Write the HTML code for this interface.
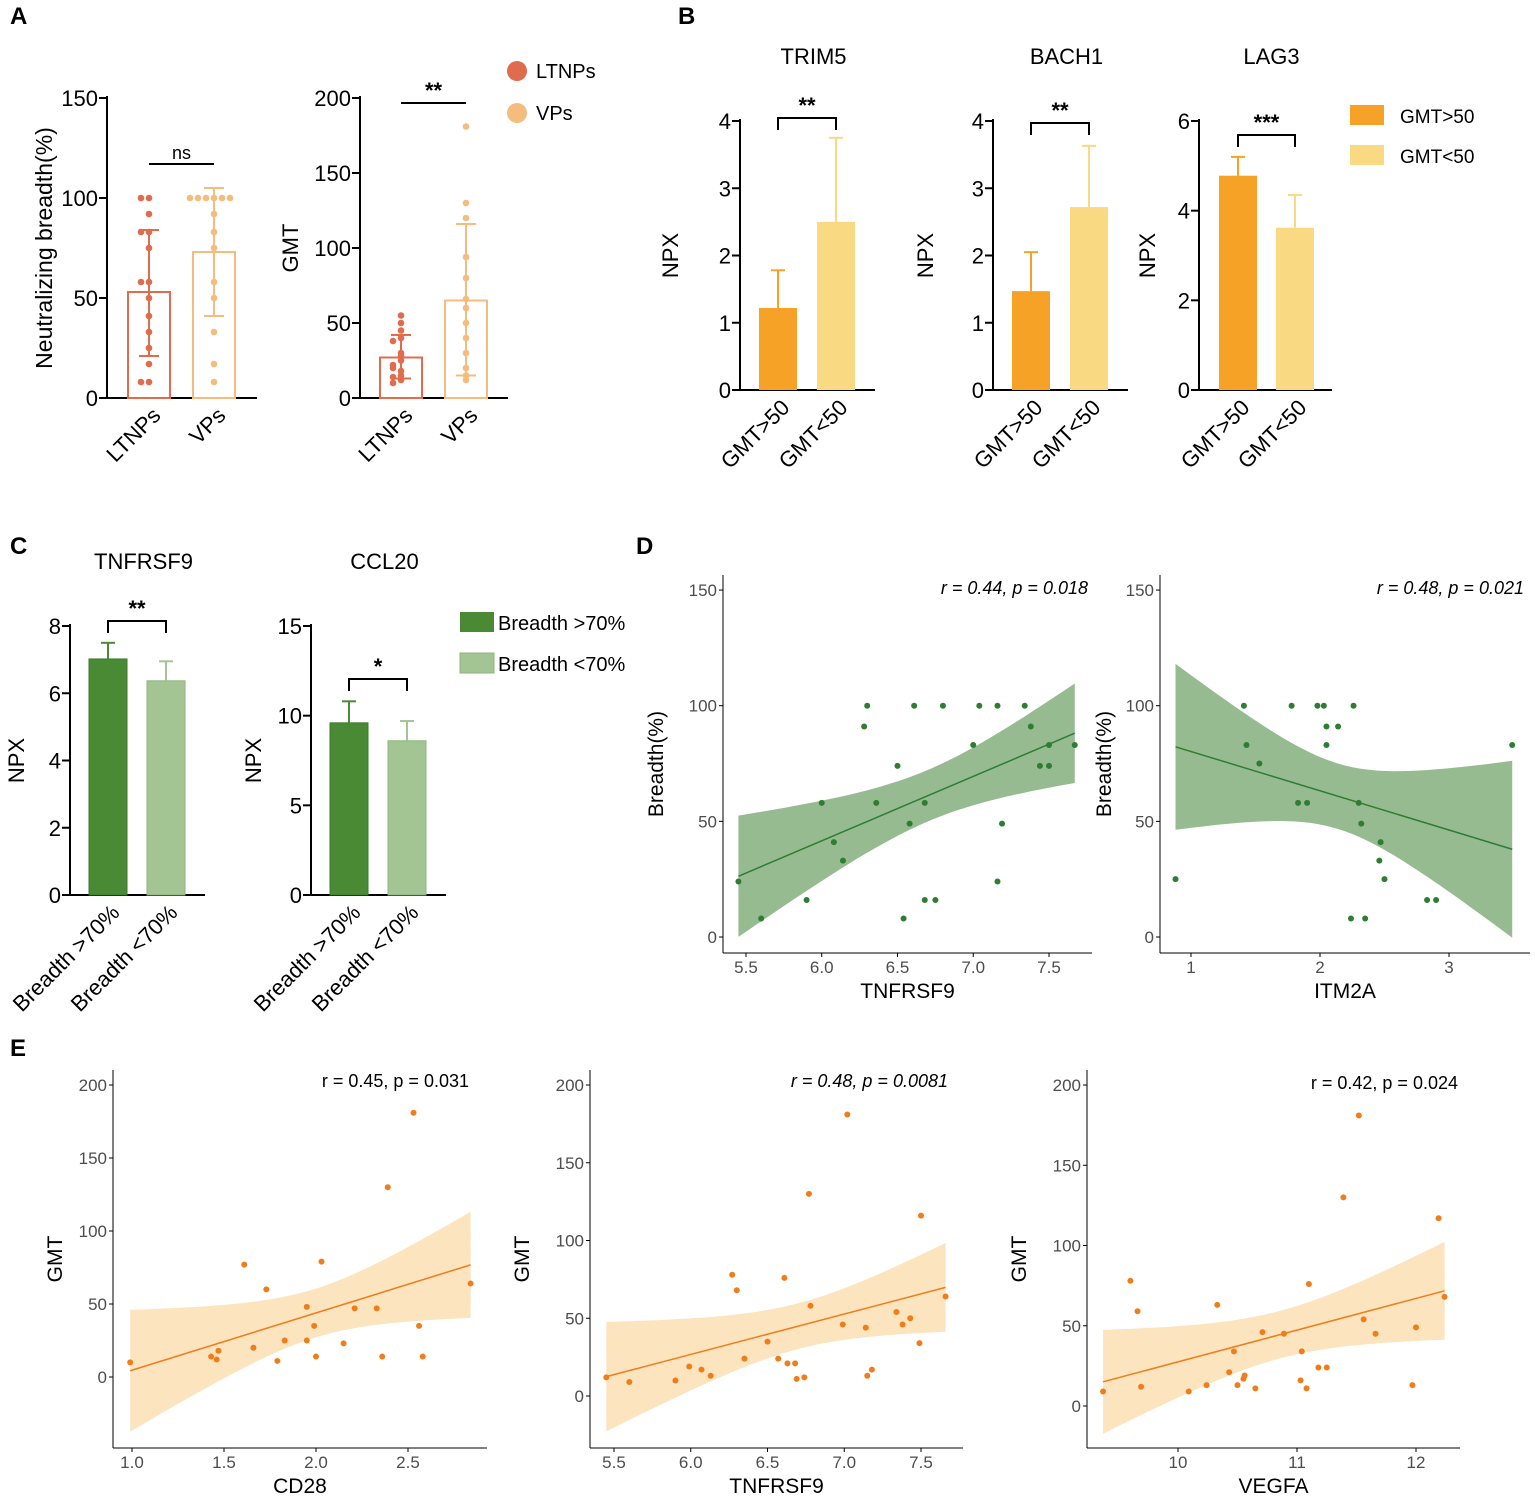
<!DOCTYPE html>
<html><head><meta charset="utf-8">
<style>
html,body{margin:0;padding:0;background:#fff;}
svg{display:block;font-family:"Liberation Sans",Arial,sans-serif;}
</style></head>
<body>
<svg id="fig" width="1535" height="1502" viewBox="0 0 1535 1502" xmlns="http://www.w3.org/2000/svg"></svg>
<script>
// ---------- DATA ----------
const aCats = ["LTNPs","VPs"];
const aBreadthMeans = [53, 73];
const aBreadthErrLo = [21, 41];
const aBreadthErrHi = [84, 105];
const aBreadthPtsL = [100,100,92,83,83,75,58,58,50,41,33,25,17,8,8];
const aBreadthPtsV = [100,100,100,100,100,100,92,83,75,58,50,33,17,8];
const aGmtMeans = [27, 65];
const aGmtErrLo = [13, 15];
const aGmtErrHi = [42, 116];
const aGmtPtsL = [55,50,45,40,38,30,28,25,22,18,15,12,10,14,20];
const aGmtPtsV = [181,130,120,94,80,66,60,50,40,30,20,15,12];

const bCats = ["GMT>50","GMT<50"];
const bTrim5 = [1.22, 2.5];   const bTrim5Err = [1.78, 3.75];
const bBach1 = [1.47, 2.72];  const bBach1Err = [2.05, 3.63];
const bLag3 = [4.78, 3.62];   const bLag3Err = [5.2, 4.35];

const cCats = ["Breadth >70%","Breadth <70%"];
const cTnf = [7.02, 6.37];  const cTnfErr = [7.5, 6.95];
const cCcl = [9.6, 8.6];    const cCclErr = [10.8, 9.7];

const dTnfX = [5.45,5.6,5.9,6.0,6.08,6.14,6.28,6.3,6.36,6.5,6.54,6.58,6.61,6.68,6.68,6.75,6.8,7.0,7.04,7.16,7.16,7.19,7.34,7.38,7.44,7.5,7.5,7.67];
const dTnfY = [24,8,16,58,41,33,91,100,58,74,8,49,100,58,16,16,100,83,100,100,24,49,100,91,74,74,83,83];
const dItmX = [0.88,1.41,1.43,1.53,1.78,1.83,1.9,1.98,2.03,2.05,2.05,2.14,2.26,2.24,2.3,2.32,2.35,2.47,2.46,2.5,2.83,2.9,3.49];
const dItmY = [25,100,83,75,100,58,58,100,100,91,83,91,100,8,58,49,8,41,33,25,16,16,83];

const eCd28X = [0.99,1.43,1.46,1.47,1.61,1.66,1.73,1.79,1.83,1.95,1.95,1.99,2.0,2.03,2.15,2.21,2.33,2.36,2.39,2.53,2.56,2.58,2.84];
const eCd28Y = [10,14,12,18,77,20,60,11,25,25,48,35,14,79,23,47,47,14,130,181,35,14,64];
const eTnfX = [5.45,5.6,5.9,5.99,6.07,6.13,6.27,6.3,6.35,6.5,6.57,6.61,6.63,6.68,6.69,6.74,6.77,6.78,6.99,7.02,7.14,7.15,7.18,7.34,7.38,7.43,7.49,7.5,7.66];
const eTnfY = [12,9,10,19,17,13,78,68,24,35,24,76,21,21,11,12,130,58,46,181,44,13,17,54,46,50,34,116,64];
const eVegX = [9.37,9.6,9.66,9.69,10.09,10.24,10.33,10.43,10.47,10.5,10.55,10.56,10.65,10.71,10.89,11.03,11.04,11.08,11.1,11.18,11.25,11.39,11.52,11.56,11.66,11.97,12.0,12.19,12.24];
const eVegY = [9,78,59,12,9,13,63,21,34,13,17,19,11,46,45,16,34,11,76,24,24,130,181,54,45,13,49,117,68];

// ---------- HELPERS ----------
const NS = "http://www.w3.org/2000/svg";
const svg = document.getElementById("fig");
function mk(tag, attrs, name, parent, txt){
  const el = document.createElementNS(NS, tag);
  for (const k in attrs) el.setAttribute(k, attrs[k]);
  
  
  if (txt !== undefined) el.textContent = txt;
  (parent || svg).appendChild(el);
  return el;
}
function txt(x,y,s,size,name,extra){
  const a = Object.assign({x:x,y:y,'font-size':size,fill:'#000'}, extra||{});
  return mk('text', a, name, svg, s);
}
function line(x1,y1,x2,y2,name,stroke,w){
  return mk('line',{x1:x1,y1:y1,x2:x2,y2:y2,stroke:stroke||'#000','stroke-width':w||2},name);
}

// bar chart
function barChart(o){
  const ys = v => o.y0 - (v / o.ymax) * (o.y0 - o.ytop);
  line(o.ax, o.ytop-2, o.ax, o.y0+1, o.id+'-y-axis');
  line(o.ax-1, o.y0, o.xend, o.y0, o.id+'-x-axis');
  o.ticks.forEach(t=>{
    const y = ys(t);
    line(o.ax-8, y, o.ax, y, o.id+'-y-tick');
    txt(o.ax-9, y+8, String(t), 22, o.id+'-y-tick-label', {'text-anchor':'end'});
  });
  o.vals.forEach((v,i)=>{
    const cx = o.centers[i], w = o.bw;
    const yt = ys(v);
    if (o.hollow){
      mk('rect',{x:cx-w/2,y:yt,width:w,height:o.y0-yt,fill:'none',stroke:o.colors[i],'stroke-width':2},o.id+'-bar-'+i);
    } else {
      mk('rect',{x:cx-w/2,y:yt,width:w,height:o.y0-yt,fill:o.colors[i],stroke:o.stroke?o.stroke[i]:'none','stroke-width':1},o.id+'-bar-'+i);
    }
    const eh = ys(o.errHi[i]);
    const el = o.errLo ? ys(o.errLo[i]) : yt;
    line(cx, eh, cx, el, o.id+'-error-bar', o.colors[i], 2);
    line(cx-(o.capW||7), eh, cx+(o.capW||7), eh, o.id+'-error-cap', o.colors[i], 2);
    if (o.errLo) line(cx-(o.capW||7), el, cx+(o.capW||7), el, o.id+'-error-cap', o.colors[i], 2);
    if (o.points){
      const pts = o.points[i];
      const cnt = {};
      pts.forEach(p=>{
        const k = Math.round(p/4);
        cnt[k] = (cnt[k]||0)+1;
        const n = cnt[k]-1;
        const off = (n%2===0?1:-1)*Math.ceil(n/2)*8;
        mk('circle',{cx:cx+off,cy:ys(p),r:3.3,fill:o.colors[i]},o.id+'-point');
      });
    }
    const lx = cx+2, ly = o.y0+8;
    txt(lx, ly, o.cats[i], 22, o.id+'-x-label', {'text-anchor':'end', transform:`rotate(-45 ${lx} ${ly})`, dy:'0.7em'});
  });
  if (o.title) txt((o.ax+o.xend)/2+6, o.titleY, o.title, 22, o.id+'-title', {'text-anchor':'middle'});
  if (o.ylab){
    const x = o.ylabX, y = (o.y0+o.ytop)/2;
    txt(x, y, o.ylab, o.ylabSize||22, o.id+'-y-axis-title', {'text-anchor':'middle', transform:`rotate(-90 ${x} ${y})`});
  }
  if (o.sig){
    const [a,b] = o.centers;
    const y = o.sig.y;
    if (o.sig.bracket){
      mk('path',{d:`M${a} ${y+12}V${y}H${b}V${y+12}`,fill:'none',stroke:'#000','stroke-width':2},o.id+'-sig-bracket');
    } else line(a, y, b, y, o.id+'-sig-line');
    txt((a+b)/2, y-5, o.sig.t, o.sig.size||20, o.id+'-sig-label', {'text-anchor':'middle','font-weight':o.sig.bold?'bold':'normal'});
  }
}

// scatter plot with regression + CI
function scatter(o){
  const xs = v => o.x0px + (v - o.x0) * o.xs;
  const ys = v => o.y0px - v * o.ys;
  const X = o.X, Y = o.Y, n = X.length;
  const mx = X.reduce((a,b)=>a+b,0)/n, my = Y.reduce((a,b)=>a+b,0)/n;
  let sxx=0, sxy=0; X.forEach((x,i)=>{sxx+=(x-mx)**2; sxy+=(x-mx)*(Y[i]-my);});
  const b = sxy/sxx, a = my - b*mx;
  let sse=0; X.forEach((x,i)=>{sse+=(Y[i]-a-b*x)**2;});
  const s = Math.sqrt(sse/(n-2)), t = 2.06;
  const xmin = Math.min(...X), xmax = Math.max(...X);
  const up=[], lo=[];
  for (let k=0;k<=40;k++){
    const x = xmin + (xmax-xmin)*k/40;
    const se = s*Math.sqrt(1/n + (x-mx)**2/sxx);
    const yh = a+b*x;
    up.push(`${xs(x).toFixed(1)},${ys(yh+t*se).toFixed(1)}`);
    lo.unshift(`${xs(x).toFixed(1)},${ys(yh-t*se).toFixed(1)}`);
  }
  mk('polygon',{points:up.concat(lo).join(' '),fill:o.band,'fill-opacity':o.bandOp},o.id+'-ci-band');
  mk('line',{x1:xs(xmin),y1:ys(a+b*xmin),x2:xs(xmax),y2:ys(a+b*xmax),stroke:o.lineC,'stroke-width':1.5},o.id+'-regression-line');
  X.forEach((x,i)=>{ mk('circle',{cx:xs(x),cy:ys(Y[i]),r:3,fill:o.pt},o.id+'-point'); });
  line(o.axX, o.top, o.axX, o.axY, o.id+'-y-axis', '#000', 1);
  line(o.axX, o.axY, o.xend, o.axY, o.id+'-x-axis', '#000', 1);
  o.yt.forEach(v=>{
    const y = ys(v);
    line(o.axX-4, y, o.axX, y, o.id+'-y-tick', '#000', 1);
    txt(o.axX-6, y+6, String(v), 17, o.id+'-y-tick-label', {'text-anchor':'end', fill:'#4d4d4d'});
  });
  o.xt.forEach((v,i)=>{
    const x = xs(v);
    line(x, o.axY, x, o.axY+4, o.id+'-x-tick', '#000', 1);
    txt(x, o.axY+20, o.xtl[i], 17, o.id+'-x-tick-label', {'text-anchor':'middle', fill:'#4d4d4d'});
  });
  txt((o.axX+o.xend)/2, o.axY+45, o.xlab, 21, o.id+'-x-axis-title', {'text-anchor':'middle'});
  const yx = o.ylabX, yy = (o.top+o.axY)/2;
  txt(yx, yy, o.ylab, 21, o.id+'-y-axis-title', {'text-anchor':'middle', transform:`rotate(-90 ${yx} ${yy})`});
  txt(o.statX, o.statY, o.stat, 18, o.id+'-stat-label', {'text-anchor':'end','font-style':o.italic?'italic':'normal'});
}

// ---------- PANEL LETTERS ----------
[['A',10,24],['B',678,24],['C',10,554],['D',636,554],['E',10,1056]].forEach(p=>{
  txt(p[1],p[2],p[0],24,'panel-label-'+p[0].toLowerCase(),{'font-weight':'bold'});
});

// ---------- PANEL A ----------
const cA = ['#e06c4e','#f4bd7e'];
barChart({id:'a-breadth',ax:107,y0:398,ytop:98,ymax:150,xend:257,ticks:[0,50,100,150],centers:[149,214],bw:42,
  vals:aBreadthMeans,errLo:aBreadthErrLo,errHi:aBreadthErrHi,colors:cA,hollow:true,cats:aCats,capW:10,
  points:[aBreadthPtsL,aBreadthPtsV],ylab:'Neutralizing breadth(%)',ylabX:52,ylabSize:23,
  sig:{y:164,t:'ns',size:18}});
barChart({id:'a-gmt',ax:360,y0:398,ytop:98,ymax:200,xend:508,ticks:[0,50,100,150,200],centers:[401,466],bw:42,
  vals:aGmtMeans,errLo:aGmtErrLo,errHi:aGmtErrHi,colors:cA,hollow:true,cats:aCats,capW:10,
  points:[aGmtPtsL,aGmtPtsV],ylab:'GMT',ylabX:298,
  sig:{y:103,t:'**',size:22,bold:true}});
mk('circle',{cx:517,cy:71,r:10,fill:cA[0]},'legend-ltnps-marker');
txt(536,78,'LTNPs',20,'legend-ltnps-label');
mk('circle',{cx:517,cy:113,r:10,fill:cA[1]},'legend-vps-marker');
txt(536,120,'VPs',20,'legend-vps-label');

// ---------- PANEL B ----------
const cB = ['#f5a226','#f9da82'];
barChart({id:'b-trim5',ax:740,y0:390,ytop:121,ymax:4,xend:875,ticks:[0,1,2,3,4],centers:[778,836],bw:38,
  vals:bTrim5,errHi:bTrim5Err,colors:cB,cats:bCats,title:'TRIM5',titleY:64,ylab:'NPX',ylabX:678,
  sig:{y:118,t:'**',size:22,bold:true,bracket:true}});
barChart({id:'b-bach1',ax:993,y0:390,ytop:121,ymax:4,xend:1128,ticks:[0,1,2,3,4],centers:[1031,1089],bw:38,
  vals:bBach1,errHi:bBach1Err,colors:cB,cats:bCats,title:'BACH1',titleY:64,ylab:'NPX',ylabX:933,
  sig:{y:123,t:'**',size:22,bold:true,bracket:true}});
barChart({id:'b-lag3',ax:1199,y0:390,ytop:121,ymax:6,xend:1332,ticks:[0,2,4,6],centers:[1238,1295],bw:38,
  vals:bLag3,errHi:bLag3Err,colors:cB,cats:bCats,title:'LAG3',titleY:64,ylab:'NPX',ylabX:1155,
  sig:{y:135,t:'***',size:22,bold:true,bracket:true}});
mk('rect',{x:1350,y:105,width:34,height:20,fill:cB[0]},'legend-gmt-high-swatch');
txt(1400,123,'GMT>50',19,'legend-gmt-high-label');
mk('rect',{x:1350,y:145,width:34,height:20,fill:cB[1]},'legend-gmt-low-swatch');
txt(1400,163,'GMT<50',19,'legend-gmt-low-label');

// ---------- PANEL C ----------
const cC = ['#4a8a35','#a3c593'];
barChart({id:'c-tnfrsf9',ax:70,y0:895,ytop:626,ymax:8,xend:205,ticks:[0,2,4,6,8],centers:[108,166],bw:38,
  vals:cTnf,errHi:cTnfErr,colors:cC,stroke:['#3c7a2a','#8db57c'],cats:cCats,title:'TNFRSF9',titleY:569,ylab:'NPX',ylabX:24,
  sig:{y:621,t:'**',size:22,bold:true,bracket:true}});
barChart({id:'c-ccl20',ax:311,y0:895,ytop:626,ymax:15,xend:446,ticks:[0,5,10,15],centers:[349,407],bw:38,
  vals:cCcl,errHi:cCclErr,colors:cC,stroke:['#3c7a2a','#8db57c'],cats:cCats,title:'CCL20',titleY:569,ylab:'NPX',ylabX:261,
  sig:{y:679,t:'*',size:22,bold:true,bracket:true}});
mk('rect',{x:460,y:612,width:34,height:20,fill:cC[0]},'legend-breadth-high-swatch');
txt(498,630,'Breadth >70%',20,'legend-breadth-high-label');
mk('rect',{x:460,y:653,width:34,height:20,fill:cC[1],stroke:'#8db57c'},'legend-breadth-low-swatch');
txt(498,671,'Breadth <70%',20,'legend-breadth-low-label');

// ---------- PANEL D ----------
scatter({id:'d-tnfrsf9',X:dTnfX,Y:dTnfY,x0:5.5,x0px:746,xs:151.5,y0px:937,ys:2.313,axX:723,axY:953,top:575,xend:1092,
  yt:[0,50,100,150],xt:[5.5,6.0,6.5,7.0,7.5],xtl:['5.5','6.0','6.5','7.0','7.5'],xlab:'TNFRSF9',ylab:'Breadth(%)',ylabX:663,
  band:'#6b9e63',bandOp:0.7,lineC:'#2e7d32',pt:'#2e7d32',stat:'r = 0.44, p = 0.018',statX:1088,statY:594,italic:true});
scatter({id:'d-itm2a',X:dItmX,Y:dItmY,x0:1,x0px:1191,xs:129,y0px:937,ys:2.313,axX:1160,axY:953,top:575,xend:1530,
  yt:[0,50,100,150],xt:[1,2,3],xtl:['1','2','3'],xlab:'ITM2A',ylab:'Breadth(%)',ylabX:1111,
  band:'#6b9e63',bandOp:0.7,lineC:'#2e7d32',pt:'#2e7d32',stat:'r = 0.48, p = 0.021',statX:1524,statY:594,italic:true});

// ---------- PANEL E ----------
scatter({id:'e-cd28',X:eCd28X,Y:eCd28Y,x0:1,x0px:132,xs:184,y0px:1377,ys:1.46,axX:113,axY:1448,top:1070,xend:487,
  yt:[0,50,100,150,200],xt:[1,1.5,2,2.5],xtl:['1.0','1.5','2.0','2.5'],xlab:'CD28',ylab:'GMT',ylabX:62,
  band:'#fbd9a4',bandOp:0.7,lineC:'#f07d1a',pt:'#f07d1a',stat:'r = 0.45, p = 0.031',statX:469,statY:1087,italic:false});
scatter({id:'e-tnfrsf9',X:eTnfX,Y:eTnfY,x0:5.5,x0px:614,xs:153.5,y0px:1396,ys:1.555,axX:590,axY:1448,top:1070,xend:963,
  yt:[0,50,100,150,200],xt:[5.5,6.0,6.5,7.0,7.5],xtl:['5.5','6.0','6.5','7.0','7.5'],xlab:'TNFRSF9',ylab:'GMT',ylabX:529,
  band:'#fbd9a4',bandOp:0.7,lineC:'#f07d1a',pt:'#f07d1a',stat:'r = 0.48, p = 0.0081',statX:948,statY:1087,italic:true});
scatter({id:'e-vegfa',X:eVegX,Y:eVegY,x0:10,x0px:1178,xs:119,y0px:1406,ys:1.605,axX:1087,axY:1448,top:1070,xend:1460,
  yt:[0,50,100,150,200],xt:[10,11,12],xtl:['10','11','12'],xlab:'VEGFA',ylab:'GMT',ylabX:1026,
  band:'#fbd9a4',bandOp:0.7,lineC:'#f07d1a',pt:'#f07d1a',stat:'r = 0.42, p = 0.024',statX:1458,statY:1089,italic:false});
</script>
</body></html>
